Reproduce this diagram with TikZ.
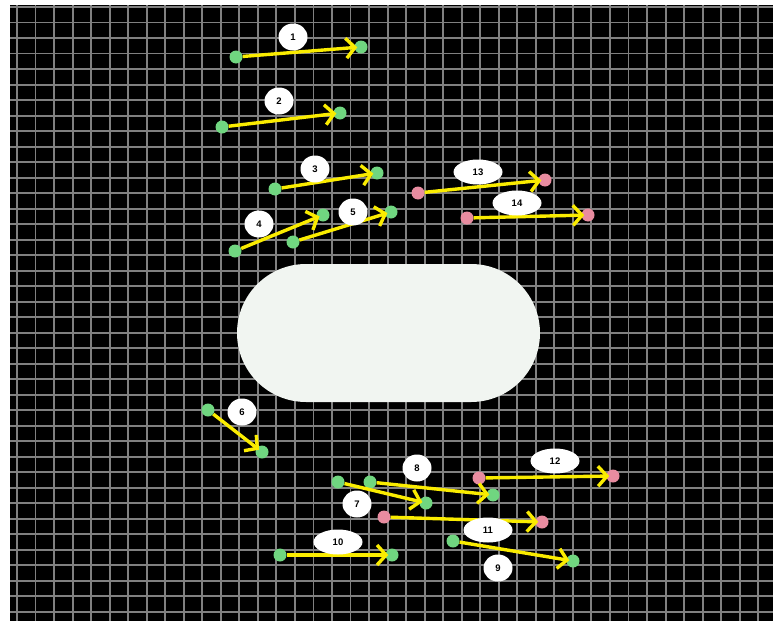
\documentclass[tikz,border=0pt]{standalone}
\usepackage{fontspec}
\setsansfont{Liberation Sans}
\usepackage{tikz}
\usetikzlibrary{arrows.meta, shapes.geometric, shapes.misc}
\usepackage{xcolor}
\definecolor{dotgreen}{RGB}{112,214,128}
\definecolor{dotpink}{RGB}{232,140,160}
\definecolor{vecyellow}{RGB}{250,236,0}
\definecolor{gridgray}{RGB}{128,128,128}
\definecolor{blobwhite}{RGB}{241,245,241}

\begin{document}
\begin{tikzpicture}[x=1pt, y=-1pt,
  gdot/.style={circle, fill=dotgreen, inner sep=0pt, minimum size=13pt},
  pdot/.style={circle, fill=dotpink, inner sep=0pt, minimum size=13pt},
  tag/.style={ellipse, fill=white, inner sep=0pt, minimum width=29pt, minimum height=27pt, font=\sffamily\bfseries\fontsize{9.5}{11}\selectfont},
  wtag/.style={tag, minimum width=49pt, minimum height=25pt},
  vec/.style={draw=vecyellow, line width=3.4pt, shorten >=-3pt, -{Straight Barb[length=9pt, width=20pt, line width=3.4pt]}},
  gridline/.style={draw=gridgray, line width=1.9pt}]
   \useasboundingbox (0,0) rectangle (773,621);
   \fill[black] (10,5) rectangle (773,621);
   % grid
   \foreach \k in {0,...,40}
     \draw[gridline] ({17+18.53*\k},5) -- ({17+18.53*\k},621);
   \foreach \k in {0,...,39}
     \draw[gridline] (10,{7+15.51*\k}) -- (773,{7+15.51*\k});
   % obstacle
   \node[rounded rectangle, fill=blobwhite, minimum width=303pt, minimum height=138pt, inner sep=0pt] (hole) at (388.5,333) {};

   % start and end points
   \node[gdot] (s1) at (236,57) {};   \node[gdot] (e1) at (361,47) {};
   \node[gdot] (s2) at (222,127) {};  \node[gdot] (e2) at (340,113) {};
   \node[gdot] (s3) at (275,189) {};  \node[gdot] (e3) at (377,173) {};
   \node[gdot] (s4) at (235,251) {};  \node[gdot] (e4) at (323,215) {};
   \node[gdot] (s5) at (293,242) {};  \node[gdot] (e5) at (391,212) {};
   \node[gdot] (s6) at (208,410) {};  \node[gdot] (e6) at (262,452) {};
   \node[gdot] (s7) at (338,482) {};  \node[gdot] (e7) at (426,503) {};
   \node[gdot] (s8) at (370,482) {};  \node[gdot] (e8) at (493,495) {};
   \node[gdot] (s9) at (453,541) {};  \node[gdot] (e9) at (573,561) {};
   \node[gdot] (s10) at (280,555) {}; \node[gdot] (e10) at (392,555) {};
   \node[pdot] (s11) at (384,517) {}; \node[pdot] (e11) at (542,522) {};
   \node[pdot] (s12) at (479,478) {}; \node[pdot] (e12) at (613,476) {};
   \node[pdot] (s13) at (418,193) {}; \node[pdot] (e13) at (545,180) {};
   \node[pdot] (s14) at (467,218) {}; \node[pdot] (e14) at (588,215) {};

   \path[vec]
    (s1) edge (e1)
    (s2) edge (e2)
    (s3) edge (e3)
    (s4) edge (e4)
    (s5) edge (e5)
    (s6) edge (e6)
    (s7) edge (e7)
    (s8) edge (e8)
    (s9) edge (e9)
    (s10) edge (e10)
    (s11) edge (e11)
    (s12) edge (e12)
    (s13) edge (e13)
    (s14) edge (e14);

   % labels
   \node[tag]  (t1)  at (293,37)  {1};
   \node[tag]  (t2)  at (279,101) {2};
   \node[tag]  (t3)  at (315,169) {3};
   \node[tag]  (t4)  at (259,224) {4};
   \node[tag]  (t5)  at (353,212) {5};
   \node[tag]  (t6)  at (242,412) {6};
   \node[tag]  (t7)  at (357,504) {7};
   \node[tag]  (t8)  at (417,468) {8};
   \node[tag]  (t9)  at (498,568) {9};
   \node[wtag] (t10) at (338,542) {10};
   \node[wtag] (t11) at (488,530) {11};
   \node[wtag] (t12) at (555,461) {12};
   \node[wtag] (t13) at (478,172) {13};
   \node[wtag] (t14) at (517,203) {14};
\end{tikzpicture}
\end{document}
